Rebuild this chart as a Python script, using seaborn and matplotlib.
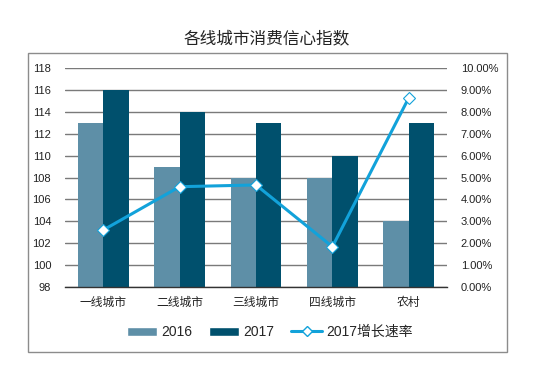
import numpy as np
import pandas as pd
import seaborn as sns
import matplotlib.pyplot as plt
from matplotlib.patches import Rectangle, Patch
from matplotlib.lines import Line2D
from matplotlib.ticker import FuncFormatter

# data
cities = ['一线城市', '二线城市', '三线城市', '四线城市', '农村']
idx2016 = [113, 109, 108, 108, 104]
idx2017 = [116, 114, 113, 110, 113]
growth2017 = [0.026, 0.0458, 0.0466, 0.0184, 0.0864]

sns.set_theme(style='white')
plt.rcParams['font.family'] = ['Liberation Sans', 'Noto Sans CJK SC', 'DejaVu Sans']

c16 = '#5E8FA7'
c17 = '#00506D'
cline = '#12A2DA'

df = pd.DataFrame({'city': cities * 2,
                   'value': idx2016 + idx2017,
                   'year': ['2016'] * 5 + ['2017'] * 5})

fig = plt.figure(figsize=(5.5, 3.7), dpi=100)
ax = fig.add_axes([0.1182, 0.2243, 0.6945, 0.5919])

# outer chart frame
fig.patches.append(Rectangle((28 / 550, 1 - 352 / 370), 479 / 550, 299 / 370,
                             transform=fig.transFigure, fill=False,
                             edgecolor='#8c8c8c', linewidth=1))

sns.barplot(data=df, x='city', y='value', hue='year', palette=[c16, c17],
            width=0.667, gap=0, saturation=1, ax=ax, legend=False,
            linewidth=0, zorder=2)
ax.set_ylim(98, 118)
ax.set_yticks(np.arange(98, 119, 2))
ax.set_xlim(-0.5, 4.5)
ax.yaxis.grid(True, color='#7a7a7a', linewidth=1)
ax.set_axisbelow(True)
ax.set_xlabel('')
ax.set_ylabel('')
for s in ['top', 'right', 'left']:
    ax.spines[s].set_visible(False)
ax.spines['bottom'].set_color('#333333')
ax.spines['bottom'].set_linewidth(1)
ax.tick_params(axis='y', length=0, labelsize=8, colors='#222222', pad=10)
ax.tick_params(axis='x', length=0, labelsize=8.5, colors='#222222', pad=7)

ax2 = ax.twinx()
sns.lineplot(x=cities, y=growth2017, ax=ax2, color=cline, linewidth=2.2,
             marker='D', markersize=6, markerfacecolor='white',
             markeredgecolor=cline, markeredgewidth=0.8, sort=False, zorder=3)
ax2.set_ylim(0, 0.10)
ax2.set_yticks(np.arange(0, 0.101, 0.01))
ax2.yaxis.set_major_formatter(FuncFormatter(lambda v, p: '%.2f%%' % (v * 100)))
ax2.set_xlim(-0.5, 4.5)
for s in ax2.spines.values():
    s.set_visible(False)
ax2.tick_params(axis='y', length=0, labelsize=8, colors='#222222', pad=10)
ax2.set_ylabel('')

fig.text(0.485, 1 - 38 / 370, '各线城市消费信心指数', ha='center', va='center',
         fontsize=12, color='#222222')

handles = [Patch(facecolor=c16, label='2016'),
           Patch(facecolor=c17, label='2017'),
           Line2D([0], [0], color=cline, linewidth=2.2, marker='D', markersize=5,
                  markerfacecolor='white', markeredgecolor=cline,
                  label='2017增长速率')]
fig.legend(handles=handles, loc='center', bbox_to_anchor=(0.49, 1 - 332 / 370),
           ncol=3, frameon=False, fontsize=10, handlelength=2.2,
           handleheight=0.6, columnspacing=1.2, handletextpad=0.3)

fig.savefig('out.png', dpi=100)
